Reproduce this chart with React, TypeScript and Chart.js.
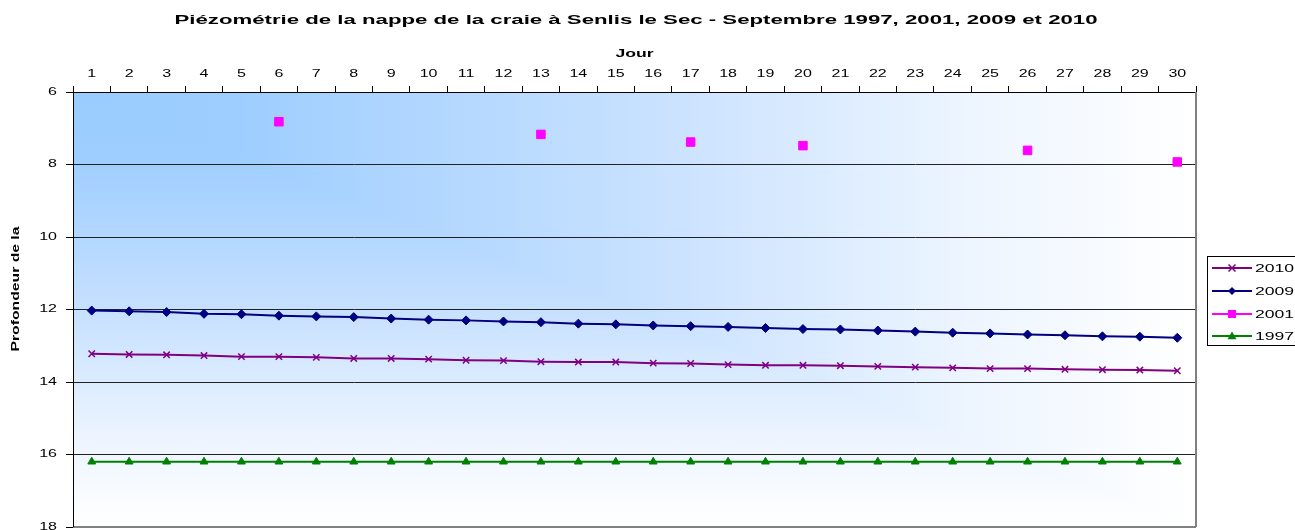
import React, { useEffect, useRef } from 'react';
import { Chart, registerables } from 'chart.js';

Chart.register(...registerables);

const TITLE = 'Piézométrie de la nappe de la craie à Senlis le Sec - Septembre 1997, 2001, 2009 et 2010';
const X_TITLE = 'Jour';
const Y_TITLE = 'Profondeur de la';

const days = ['1', '2', '3', '4', '5', '6', '7', '8', '9', '10', '11', '12', '13', '14', '15', '16', '17', '18', '19', '20', '21', '22', '23', '24', '25', '26', '27', '28', '29', '30'];

const s2010 = [13.22, 13.24, 13.25, 13.27, 13.3, 13.3, 13.32, 13.35, 13.35, 13.37, 13.4, 13.41, 13.44, 13.45, 13.45, 13.48, 13.49, 13.52, 13.54, 13.54, 13.55, 13.57, 13.59, 13.61, 13.63, 13.63, 13.65, 13.66, 13.67, 13.69];
const s2009 = [12.03, 12.05, 12.07, 12.12, 12.13, 12.17, 12.19, 12.21, 12.25, 12.28, 12.3, 12.33, 12.35, 12.39, 12.41, 12.44, 12.46, 12.48, 12.51, 12.54, 12.55, 12.58, 12.61, 12.64, 12.66, 12.69, 12.71, 12.74, 12.75, 12.78];
const s2001 = [null, null, null, null, null, 6.82, null, null, null, null, null, null, 7.17, null, null, null, 7.38, null, null, 7.48, null, null, null, null, null, 7.61, null, null, null, 7.93];
const s1997 = [16.2, 16.2, 16.2, 16.2, 16.2, 16.2, 16.2, 16.2, 16.2, 16.2, 16.2, 16.2, 16.2, 16.2, 16.2, 16.2, 16.2, 16.2, 16.2, 16.2, 16.2, 16.2, 16.2, 16.2, 16.2, 16.2, 16.2, 16.2, 16.2, 16.2];

const seriesNames = ['2010', '2009', '2001', '1997'];
const seriesColors = ['#800080', '#000080', '#FF00FF', '#008000'];
const seriesMarkers = ['cross', 'diamond', 'square', 'triangle'];

const FONT = '"Liberation Sans", Arial, sans-serif';

let stretchOverride: number | null = null;

function drawMarker(ctx: CanvasRenderingContext2D, kind: string, x: number, y: number, color: string) {
  ctx.save();
  ctx.fillStyle = color;
  ctx.strokeStyle = color;
  ctx.beginPath();
  if (kind === 'cross') {
    const r = 3.5;
    ctx.lineWidth = 1.5;
    ctx.moveTo(x - r, y - r); ctx.lineTo(x + r, y + r);
    ctx.moveTo(x + r, y - r); ctx.lineTo(x - r, y + r);
    ctx.stroke();
  } else if (kind === 'diamond') {
    const r = 4;
    ctx.moveTo(x, y - r); ctx.lineTo(x + r, y); ctx.lineTo(x, y + r); ctx.lineTo(x - r, y);
    ctx.closePath(); ctx.fill();
  } else if (kind === 'square') {
    ctx.rect(x - 4, y - 4, 8, 8); ctx.fill();
  } else {
    const r = 4.5;
    ctx.moveTo(x, y - r); ctx.lineTo(x + r, y + r * 0.7); ctx.lineTo(x - r, y + r * 0.7);
    ctx.closePath(); ctx.fill();
  }
  ctx.restore();
}

function makeGrad(ctx: CanvasRenderingContext2D, x0: number, y0: number, x1: number, y1: number) {
  const g = ctx.createLinearGradient(x0, y0, x1, y1);
  g.addColorStop(0, '#99CCFF');
  g.addColorStop(0.15, '#9ECEFF');
  g.addColorStop(0.5, '#C6E0FF');
  g.addColorStop(0.8, '#EDF5FF');
  g.addColorStop(1, '#FFFFFF');
  return g;
}

const bgPlugin = {
  id: 'bgGradient',
  beforeDraw(chart: any) {
    const { ctx, chartArea: a } = chart;
    const w = a.right - a.left;
    const h = a.bottom - a.top;
    ctx.save();
    ctx.fillStyle = makeGrad(ctx, a.left, a.top, a.right, a.top);
    ctx.fillRect(a.left, a.top, w, h);
    ctx.globalCompositeOperation = 'lighten';
    ctx.fillStyle = makeGrad(ctx, a.left, a.top, a.left, a.bottom);
    ctx.fillRect(a.left, a.top, w, h);
    ctx.restore();
  },
  beforeDatasetsDraw(chart: any) {
    const { ctx, chartArea: a } = chart;
    ctx.save();
    ctx.strokeStyle = '#808080';
    ctx.lineWidth = 2;
    ctx.beginPath();
    ctx.moveTo(a.left, a.bottom);
    ctx.lineTo(a.right, a.bottom);
    ctx.moveTo(a.right, a.top);
    ctx.lineTo(a.right, a.bottom);
    ctx.stroke();
    ctx.strokeStyle = '#000';
    ctx.lineWidth = 1;
    ctx.beginPath();
    ctx.moveTo(a.left + 0.5, a.top);
    ctx.lineTo(a.left + 0.5, a.bottom);
    ctx.stroke();
    ctx.restore();
  },
};

const yTitlePlugin = {
  id: 'yTitle',
  afterDraw(chart: any) {
    const { ctx } = chart;
    ctx.save();
    ctx.translate(16, 289);
    ctx.rotate(-Math.PI / 2);
    ctx.font = 'bold 11px ' + FONT;
    ctx.fillStyle = '#000';
    ctx.textAlign = 'center';
    ctx.textBaseline = 'middle';
    stretchOverride = 1.43;
    ctx.fillText(Y_TITLE, 0, 0);
    stretchOverride = null;
    ctx.restore();
  },
};

const legendPlugin = {
  id: 'sideLegend',
  afterDraw(chart: any) {
    const { ctx, chartArea: a } = chart;
    const bx = a.right + 11;
    const by = 256;
    ctx.save();
    ctx.fillStyle = '#FFFFFF';
    ctx.fillRect(bx, by, 120, 89);
    ctx.strokeStyle = '#000';
    ctx.lineWidth = 1;
    ctx.strokeRect(bx + 0.5, by + 0.5, 120, 89);
    ctx.font = '11px ' + FONT;
    ctx.textBaseline = 'middle';
    ctx.textAlign = 'left';
    const ys = [268, 291, 314, 336];
    for (let i = 0; i < seriesNames.length; i++) {
      const y = ys[i];
      ctx.strokeStyle = seriesColors[i];
      ctx.lineWidth = 2;
      ctx.beginPath();
      ctx.moveTo(bx + 5, y);
      ctx.lineTo(bx + 45, y);
      ctx.stroke();
      drawMarker(ctx, seriesMarkers[i], bx + 25, y, seriesColors[i]);
      ctx.fillStyle = '#000';
      ctx.fillText(seriesNames[i], bx + 48, y + 1);
    }
    ctx.restore();
  },
};

export default function App() {
  const ref = useRef<HTMLCanvasElement | null>(null);

  useEffect(() => {
    const canvas = ref.current;
    if (!canvas) return;
    const ctx = canvas.getContext('2d') as CanvasRenderingContext2D;
    const origFill = ctx.fillText.bind(ctx);
    (ctx as any).fillText = (text: string, x: number, y: number, maxWidth?: number) => {
      const f = stretchOverride !== null ? stretchOverride : /bold 12px/.test(ctx.font) ? 1.85 : 1.6;
      ctx.save();
      ctx.translate(x, y);
      ctx.scale(f, 1);
      if (maxWidth !== undefined) origFill(text, 0, 0, maxWidth / f);
      else origFill(text, 0, 0);
      ctx.restore();
    };

    Chart.defaults.font.family = FONT;
    Chart.defaults.color = '#000';

    const chart = new Chart(canvas, {
      type: 'line',
      data: {
        labels: days,
        datasets: [
          {
            label: seriesNames[0], data: s2010, borderColor: seriesColors[0], backgroundColor: seriesColors[0],
            borderWidth: 2, pointStyle: 'crossRot', pointRadius: 4.5, pointBorderWidth: 1.5,
            pointBorderColor: seriesColors[0], tension: 0,
          },
          {
            label: seriesNames[1], data: s2009, borderColor: seriesColors[1], backgroundColor: seriesColors[1],
            borderWidth: 2, pointStyle: 'rectRot', pointRadius: 4.5, pointBorderWidth: 1,
            pointBackgroundColor: seriesColors[1], pointBorderColor: seriesColors[1], tension: 0,
          },
          {
            label: seriesNames[2], data: s2001, borderColor: seriesColors[2], backgroundColor: seriesColors[2],
            borderWidth: 2, pointStyle: 'rect', pointRadius: 6, pointBorderWidth: 1,
            pointBackgroundColor: seriesColors[2], pointBorderColor: seriesColors[2], spanGaps: false, tension: 0,
          },
          {
            label: seriesNames[3], data: s1997, borderColor: seriesColors[3], backgroundColor: seriesColors[3],
            borderWidth: 2, pointStyle: 'triangle', pointRadius: 4.5, pointBorderWidth: 1,
            pointBackgroundColor: seriesColors[3], pointBorderColor: seriesColors[3], tension: 0,
          },
        ],
      },
      options: {
        responsive: false,
        animation: false,
        devicePixelRatio: 1,
        layout: { padding: { left: 0, right: 23, top: 0, bottom: 18 } },
        plugins: {
          legend: { display: false },
          tooltip: { enabled: false },
          title: {
            display: true,
            text: TITLE,
            color: '#000',
            font: { size: 12, weight: 'bold', family: FONT },
            padding: { top: 13, bottom: 14 },
          },
        },
        scales: {
          x: {
            type: 'category',
            position: 'top',
            offset: true,
            grid: { display: true, drawOnChartArea: false, drawTicks: true, tickLength: 6, offset: true, tickColor: '#000', color: '#000' },
            border: { display: true, color: '#000', width: 1 },
            ticks: { autoSkip: false, maxRotation: 0, minRotation: 0, padding: 6, color: '#000', font: { size: 10, family: FONT } },
            title: { display: true, text: X_TITLE, color: '#000', font: { size: 11, weight: 'bold', family: FONT }, padding: { top: 6, bottom: 0 } },
            afterFit(s: any) { s.height = 92 - 41.4; },
          },
          y: {
            type: 'linear',
            position: 'left',
            reverse: true,
            min: 6,
            max: 18,
            grid: { display: true, drawOnChartArea: true, drawTicks: true, tickLength: 7, color: '#222222', tickColor: '#000' },
            border: { display: true, color: '#000', width: 1 },
            ticks: { stepSize: 2, padding: 9, color: '#000', font: { size: 10, family: FONT } },
            title: { display: false },
            afterFit(s: any) { s.width = 73; },
          },
          yR: {
            type: 'linear',
            position: 'right',
            display: true,
            grid: { display: false, drawTicks: false },
            border: { display: false },
            ticks: { display: false },
            afterFit(s: any) { s.width = 76; },
          },
        },
      } as any,
      plugins: [bgPlugin, yTitlePlugin, legendPlugin],
    });

    return () => {
      chart.destroy();
    };
  }, []);

  return (
    <div style={{ position: 'fixed', left: 0, top: 0, width: 1295, height: 530, overflow: 'hidden', background: '#fff' }}>
      <canvas ref={ref} width={1295} height={545} style={{ display: 'block' }} />
    </div>
  );
}
